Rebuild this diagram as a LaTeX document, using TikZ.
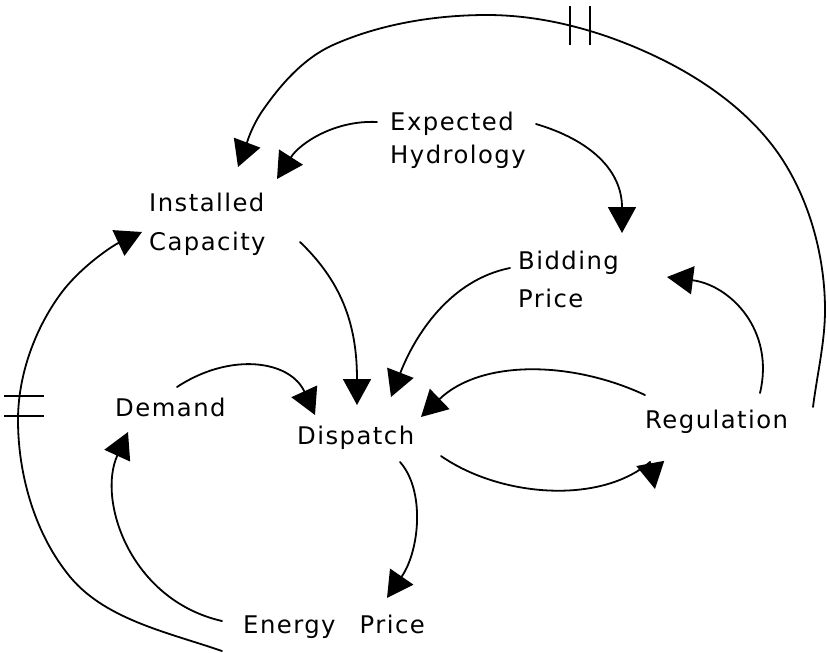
\documentclass[tikz,border=0pt]{standalone}
\usepackage{fontspec}
\setmainfont{DejaVu Sans}[LetterSpace=6.0]
\usetikzlibrary{arrows.meta}
\begin{document}
\begin{tikzpicture}[x=1pt,y=-1pt,
  lbl/.style={inner sep=0pt,anchor=base west,font=\fontsize{24.3}{28}\selectfont},
  link/.style={line width=1.8pt,line cap=round,line join=round},
  arr/.style={link,-{Triangle[length=26pt,width=28pt]}},
  delay/.style={line width=1.6pt}]
\useasboundingbox (0,0) rectangle (827,653);
% labels
\node[lbl] (exp1) at (390,130) {Expected};
\node[lbl] (exp2) at (390,163) {Hydrology};
\node[lbl] (ins1) at (149,211) {Installed};
\node[lbl] (ins2) at (149,250) {Capacity};
\node[lbl] (bid1) at (518,269) {Bidding};
\node[lbl] (bid2) at (518,307) {Price};
\node[lbl] (dem) at (115,416) {Demand};
\node[lbl] (dis) at (297,444) {Dispatch};
\node[lbl] (reg) at (645,428) {Regulation};
\node[lbl] (ene) at (243,633) {Energy\hspace{15pt} Price};
% connector ends
\coordinate (expL) at (377,122);
\coordinate (expR) at (536,124);
\coordinate (insIn1) at (238,167);
\coordinate (insIn2) at (277,179);
\coordinate (insIn3) at (142,232);
\coordinate (insOut) at (300,242);
\coordinate (bidIn1) at (622,233);
\coordinate (bidIn2) at (667,277);
\coordinate (bidOut) at (510,268);
\coordinate (disIn1) at (357,405);
\coordinate (disIn2) at (391,397);
\coordinate (disIn3) at (421,417);
\coordinate (disIn4) at (315,415);
\coordinate (disOut1) at (441,456);
\coordinate (disOut2) at (400,462);
\coordinate (regOut1) at (760,393);
\coordinate (regOut2) at (645,395);
\coordinate (regOut3) at (813,407);
\coordinate (regIn) at (655,489);
\coordinate (regInB) at (650,462);
\coordinate (demOut) at (177,387);
\coordinate (demIn) at (128,432);
\coordinate (eneOut1) at (222,621);
\coordinate (eneOut2) at (222,651);
\coordinate (eneIn) at (387,598);
% connectors
\draw[arr] (expL) .. controls (335,120) and (300,143) .. (insIn2);
\draw[arr] (expR) .. controls (590,140) and (622,170) .. (bidIn1);
\draw[arr] (insOut) .. controls (345,285) and (357,330) .. (disIn1);
\draw[arr] (bidOut) .. controls (450,280) and (415,335) .. (disIn2);
\draw[arr] (regOut1) .. controls (775,330) and (730,285) .. (bidIn2);
\draw[arr] (regOut2) .. controls (570,360) and (480,360) .. (disIn3);
\draw[link] (disOut1) .. controls (500,497) and (600,505) .. (regInB);
\draw[arr] (regInB) -- (regIn);
\draw[arr] (disOut2) .. controls (425,490) and (420,550) .. (eneIn);
\draw[arr] (demOut) .. controls (230,352) and (290,360) .. (disIn4);
\draw[arr] (eneOut1) .. controls (130,600) and (97,500) .. (demIn);
% long delayed link: Regulation -> Installed Capacity
\draw[arr] (regOut3) .. controls (817,375) and (825,342) .. (825,310)
  .. controls (825,261) and (812,209) .. (787,167)
  .. controls (760,121) and (714,86) .. (667,62)
  .. controls (612,34) and (549,15) .. (487,15)
  .. controls (435,15) and (380,24) .. (333,45)
  .. controls (304,58) and (281,84) .. (263,110)
  .. controls (251,127) and (245.5,147) .. (insIn1);
% long delayed link: Energy Price -> Installed Capacity
\draw[arr] (eneOut2) .. controls (167,632) and (102,619) .. (67,573)
  .. controls (34,531) and (18,473) .. (18,420)
  .. controls (18,375) and (35,328) .. (62,292)
  .. controls (82,266) and (112,246) .. (insIn3);
% delay marks
\draw[delay] (570,6) -- (570,45) (590,6) -- (590,45);
\draw[delay] (4,396) -- (44,396) (4,416) -- (44,416);
\end{tikzpicture}
\end{document}
